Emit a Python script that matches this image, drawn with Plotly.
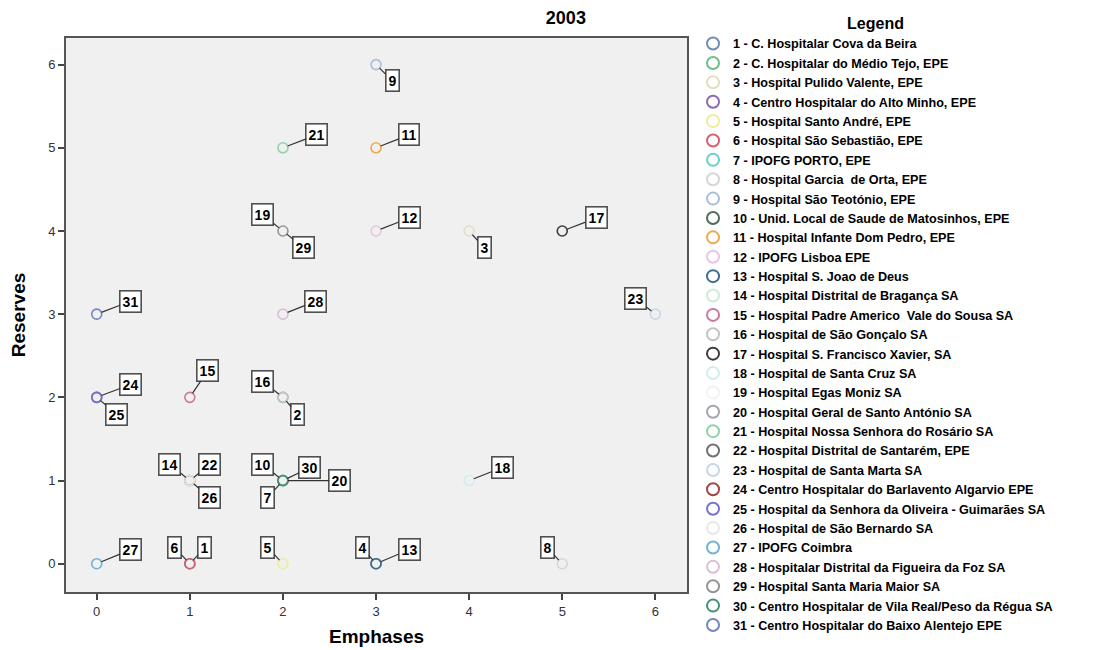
import plotly.graph_objects as go

# ---- data ----
hospital_ids = list(range(1, 32))
hospital_names = [
    "C. Hospitalar Cova da Beira",
    "C. Hospitalar do Médio Tejo, EPE",
    "Hospital Pulido Valente, EPE",
    "Centro Hospitalar do Alto Minho, EPE",
    "Hospital Santo André, EPE",
    "Hospital São Sebastião, EPE",
    "IPOFG PORTO, EPE",
    "Hospital Garcia  de Orta, EPE",
    "Hospital São Teotónio, EPE",
    "Unid. Local de Saude de Matosinhos, EPE",
    "Hospital Infante Dom Pedro, EPE",
    "IPOFG Lisboa EPE",
    "Hospital S. Joao de Deus",
    "Hospital Distrital de Bragança SA",
    "Hospital Padre Americo  Vale do Sousa SA",
    "Hospital de São Gonçalo SA",
    "Hospital S. Francisco Xavier, SA",
    "Hospital de Santa Cruz SA",
    "Hospital Egas Moniz SA",
    "Hospital Geral de Santo António SA",
    "Hospital Nossa Senhora do Rosário SA",
    "Hospital Distrital de Santarém, EPE",
    "Hospital de Santa Marta SA",
    "Centro Hospitalar do Barlavento Algarvio EPE",
    "Hospital da Senhora da Oliveira - Guimarães SA",
    "Hospital de São Bernardo SA",
    "IPOFG Coimbra",
    "Hospitalar Distrital da Figueira da Foz SA",
    "Hospital Santa Maria Maior SA",
    "Centro Hospitalar de Vila Real/Peso da Régua SA",
    "Centro Hospitalar do Baixo Alentejo EPE",
]
emphases = [1, 2, 4, 3, 2, 1, 2, 5, 3, 2, 3, 3, 3, 1, 1, 2, 5, 4, 2, 2, 2, 1, 6, 0, 0, 1, 0, 2, 2, 2, 0]
reserves = [0, 2, 4, 0, 0, 0, 1, 0, 6, 1, 5, 4, 0, 1, 2, 2, 4, 1, 4, 1, 5, 1, 3, 2, 2, 1, 0, 3, 4, 1, 3]

# ---- styles ----
colors = [
    "#6F8DB8", "#6DBF8A", "#E2DEC2", "#8B6BAE", "#EFEC9E", "#D8606E", "#66CDD0", "#D6D6D6",
    "#A9BEDB", "#4F6B5B", "#EDA94C", "#E6C6E2", "#3E6E8E", "#D0EBD3", "#C77A9A", "#C4C4C4",
    "#3C3C3C", "#D3ECEE", "#F2F2F2", "#A4A4AC", "#92D3A6", "#707070", "#C8D7E8", "#A24848",
    "#7373D6", "#E8E8E8", "#72B3D3", "#D8BED8", "#959595", "#3F9472", "#7485C4",
]
label_offsets = [
    (15, -16), (15, 17), (15, 17), (-14, -16), (-15, -16), (-15, -16), (-15, 17), (-15, -16),
    (16, 16), (-20, -16), (33, -13), (33, -13), (33, -14), (-20, -16), (18, -27), (-20, -16),
    (34, -13), (33, -13), (-20, -16), (57, 0), (34, -13), (20, -16), (-20, -16), (34, -13),
    (20, 17), (20, 17), (34, -14), (33, -13), (21, 17), (27, -13), (34, -13),
]

FONT = "Liberation Sans, Arial, sans-serif"

fig = go.Figure()
for i, hid in enumerate(hospital_ids):
    fig.add_trace(go.Scatter(
        x=[emphases[i]], y=[reserves[i]],
        mode="markers",
        name=f"{hid} - {hospital_names[i]}",
        marker=dict(symbol="circle-open", size=10, color=colors[i], line=dict(width=1.6, color=colors[i])),
        hoverinfo="name+x+y",
    ))

annotations = []
for i, hid in enumerate(hospital_ids):
    ax, ay = label_offsets[i]
    annotations.append(dict(
        x=emphases[i], y=reserves[i], xref="x", yref="y",
        text=str(hid), showarrow=True, ax=ax, ay=ay,
        arrowhead=0, arrowwidth=1.2, arrowcolor="#333333", standoff=5,
        font=dict(family=FONT, size=14, color="#000000", weight="bold"),
        bgcolor="#FFFFFF", bordercolor="#505050", borderwidth=1.6, borderpad=2,
    ))

# the page body has an 8px default margin, so the figure is sized to fit the remaining view
fig.update_layout(
    width=1108, height=642,
    paper_bgcolor="#FFFFFF", plot_bgcolor="#F0F0F0",
    margin=dict(l=58, r=429, t=30, b=58, autoexpand=False),
    title=dict(text="2003", x=0.5035, xref="container", y=0.9844, yref="container", yanchor="middle",
               font=dict(family=FONT, size=18, color="#000000", weight="bold")),
    font=dict(family=FONT, color="#222222"),
    annotations=annotations,
    showlegend=True,
    legend=dict(
        x=1.0097, xanchor="left", y=1.054, yanchor="top",
        maxheight=642,
        title=dict(text="Legend", side="top center",
                   font=dict(family=FONT, size=16, color="#000000", weight="bold")),
        font=dict(family=FONT, size=12.6, color="#000000", weight="bold"),
        bgcolor="rgba(255,255,255,0)", itemsizing="constant",
    ),
    xaxis=dict(
        title=dict(text="Emphases", font=dict(family=FONT, size=19, color="#000000", weight="bold"), standoff=12),
        range=[-0.33, 6.34], tickmode="array", tickvals=[0, 1, 2, 3, 4, 5, 6],
        showgrid=False, zeroline=False, automargin=False,
        showline=True, linecolor="#555555", linewidth=2, mirror=True,
        ticks="outside", ticklen=6, tickwidth=1.5, tickcolor="#444444",
        tickfont=dict(family=FONT, size=13, color="#333333"),
    ),
    yaxis=dict(
        title=dict(text="Reserves", font=dict(family=FONT, size=19, color="#000000", weight="bold"), standoff=18),
        range=[-0.34, 6.32], tickmode="array", tickvals=[0, 1, 2, 3, 4, 5, 6],
        showgrid=False, zeroline=False, automargin=False,
        showline=True, linecolor="#555555", linewidth=2, mirror=True,
        ticks="outside", ticklen=6, tickwidth=1.5, tickcolor="#444444",
        tickfont=dict(family=FONT, size=13, color="#333333"),
    ),
)

fig.write_html("out.html")
